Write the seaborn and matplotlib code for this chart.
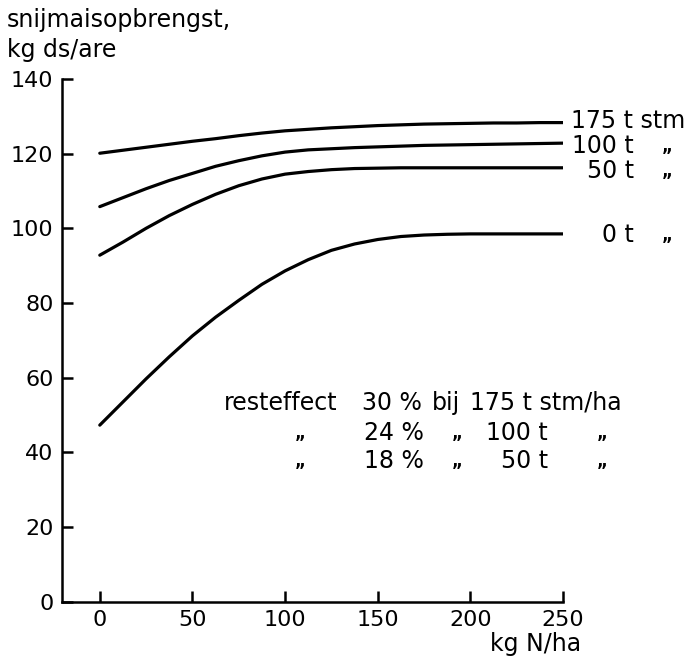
import matplotlib
matplotlib.use("Agg")
import matplotlib.pyplot as plt
import seaborn as sns
import pandas as pd

# data
n_dose = [0, 12.5, 25, 37.5, 50, 62.5, 75, 87.5, 100, 112.5, 125, 137.5, 150,
          162.5, 175, 187.5, 200, 212.5, 225, 237.5, 250]
yield_175t = [120.1, 120.9, 121.7, 122.5, 123.3, 124.0, 124.8, 125.5, 126.1, 126.5, 126.9,
              127.2, 127.5, 127.7, 127.9, 128.0, 128.1, 128.2, 128.2, 128.3, 128.3]
yield_100t = [105.8, 108.2, 110.6, 112.8, 114.7, 116.6, 118.1, 119.4, 120.4, 121.0, 121.3,
              121.6, 121.8, 122.0, 122.2, 122.3, 122.4, 122.5, 122.6, 122.7, 122.8]
yield_50t = [92.8, 96.3, 100.0, 103.4, 106.4, 109.1, 111.4, 113.2, 114.5, 115.2, 115.7,
             116.0, 116.1, 116.2, 116.2, 116.2, 116.2, 116.2, 116.2, 116.2, 116.2]
yield_0t = [47.3, 53.5, 59.7, 65.6, 71.2, 76.2, 80.7, 85.0, 88.6, 91.6, 94.1,
            95.8, 97.0, 97.8, 98.2, 98.4, 98.5, 98.5, 98.5, 98.5, 98.5]
series_names = ["175 t stm", "100 t", "50 t", "0 t"]
x_ticks = [0, 50, 100, 150, 200, 250]
y_ticks = [0, 20, 40, 60, 80, 100, 120, 140]

rows = []
for name, vals in zip(series_names, [yield_175t, yield_100t, yield_50t, yield_0t]):
    for x, v in zip(n_dose, vals):
        rows.append({"N": x, "yield": v, "series": name})
df = pd.DataFrame(rows)

sns.set_style("ticks")
plt.rcParams["font.family"] = ["DejaVu Sans"]
for k in ["text.color", "axes.labelcolor", "xtick.color", "ytick.color", "axes.edgecolor"]:
    plt.rcParams[k] = "black"

W, H = 689, 660
fig = plt.figure(figsize=(W / 100, H / 100), dpi=100)
ax = fig.add_axes([61.8 / W, 1 - 601.8 / H, (563 - 61.8) / W, (601.8 - 78.9) / H])

sns.lineplot(data=df, x="N", y="yield", hue="series", palette=["black"] * 4,
             estimator=None, sort=False, legend=False, linewidth=2.3, ax=ax)

ax.set_xlim(-20.5, 250)
ax.set_ylim(0, 140)
ax.set_xticks(x_ticks)
ax.set_yticks(y_ticks)
ax.set_xlabel("")
ax.set_ylabel("")
for s in ["top", "right"]:
    ax.spines[s].set_visible(False)
for s in ["left", "bottom"]:
    ax.spines[s].set_linewidth(1.8)
    ax.spines[s].set_color("black")
ax.tick_params(direction="in", length=8, width=1.8, labelsize=16, pad=6, colors="black")

fs = 17
dfs = 12
def px2x(px):
    return (px - 99.8) / 1.853
def py2y(py):
    return 100 - (py - 228.3) / 3.735

# right-hand labels
ax.text(px2x(571), py2y(128), "175 t stm", fontsize=fs, ha="left", va="baseline", clip_on=False)
ax.text(px2x(634), py2y(153), "100 t", fontsize=fs, ha="right", va="baseline", clip_on=False)
ax.text(px2x(634), py2y(178), "50 t", fontsize=fs, ha="right", va="baseline", clip_on=False)
ax.text(px2x(634), py2y(242), "0 t", fontsize=fs, ha="right", va="baseline", clip_on=False)
for py in [152, 177, 241]:
    ax.text(px2x(667), py2y(py), "\u201e", fontsize=dfs, ha="center", va="baseline",
            fontweight="bold", clip_on=False)

# resteffect block
ax.text(px2x(224), py2y(410), "resteffect", fontsize=fs, ha="left", va="baseline")
ax.text(px2x(362), py2y(410), "30 %", fontsize=fs, ha="left", va="baseline")
ax.text(px2x(432), py2y(410), "bij", fontsize=fs, ha="left", va="baseline")
ax.text(px2x(470), py2y(410), "175 t stm/ha", fontsize=fs, ha="left", va="baseline")
for py, pct, dose in [(440, "24 %", "100 t"), (468, "18 %", "50 t")]:
    ax.text(px2x(300), py2y(py - 1), "\u201e", fontsize=dfs, ha="center", va="baseline", fontweight="bold")
    ax.text(px2x(364), py2y(py), pct, fontsize=fs, ha="left", va="baseline")
    ax.text(px2x(457), py2y(py - 1), "\u201e", fontsize=dfs, ha="center", va="baseline", fontweight="bold")
    ax.text(px2x(548), py2y(py), dose, fontsize=fs, ha="right", va="baseline")
    ax.text(px2x(602), py2y(py - 1), "\u201e", fontsize=dfs, ha="center", va="baseline", fontweight="bold")

# axis titles
fig.text(7 / W, 1 - 27 / H, "snijmaisopbrengst,", fontsize=fs, ha="left", va="baseline")
fig.text(7 / W, 1 - 57 / H, "kg ds/are", fontsize=fs, ha="left", va="baseline")
fig.text(581 / W, 1 - 651 / H, "kg N/ha", fontsize=fs, ha="right", va="baseline")

fig.savefig("out.png", dpi=100)
